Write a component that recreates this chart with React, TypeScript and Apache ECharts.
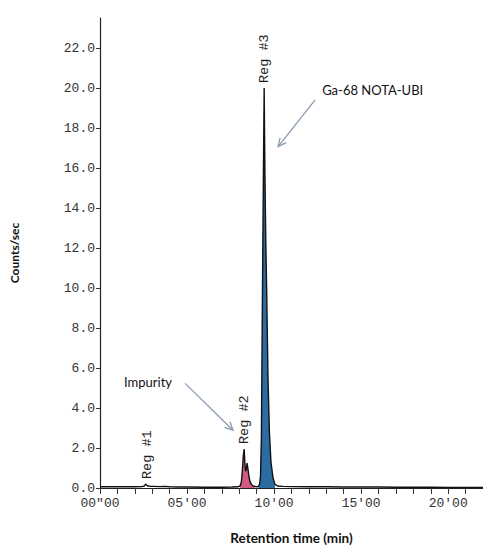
import React, { useEffect, useRef } from "react";
import * as echarts from "echarts";

// Retention time (min) and detector counts (counts/sec) of the radio-HPLC trace
const traceTime = [0, 0.5, 1.0, 1.5, 2.0, 2.4, 2.55, 2.62, 2.68, 2.75, 2.9, 3.1, 3.4, 3.7, 4.0, 4.5, 5.0, 6.0, 7.0, 7.6, 7.9, 8.05, 8.12, 8.18, 8.23, 8.28, 8.32, 8.36, 8.4, 8.45, 8.5, 8.56, 8.62, 8.7, 8.8, 8.9, 9.0, 9.1, 9.17, 9.22, 9.27, 9.33, 9.38, 9.43, 9.47, 9.52, 9.58, 9.65, 9.73, 9.82, 9.94, 10.05, 10.2, 10.5, 11, 12, 13, 14, 15, 16, 17, 18, 19, 20, 21, 22];
const traceCounts = [0.06, 0.06, 0.06, 0.06, 0.06, 0.07, 0.1, 0.2, 0.14, 0.1, 0.08, 0.08, 0.07, 0.08, 0.06, 0.05, 0.05, 0.04, 0.04, 0.05, 0.06, 0.1, 0.3, 0.9, 1.6, 1.95, 1.3, 0.85, 0.9, 1.25, 0.95, 0.55, 0.32, 0.18, 0.1, 0.08, 0.06, 0.08, 0.2, 0.6, 2.5, 9.5, 15, 20, 16, 12.5, 9.5, 5.5, 2.8, 1.3, 0.5, 0.18, 0.1, 0.08, 0.07, 0.06, 0.06, 0.05, 0.05, 0.05, 0.04, 0.04, 0.04, 0.03, 0.03, 0.03];

// Integrated regions (time ranges, min)
const impurityRange = [8.05, 8.9];
const productRange = [9.1, 10.05];

// Region labels: [label, time, counts at peak]
const regionLabels = ["Reg #1", "Reg #2", "Reg #3"];
const regionTimes = [2.75, 8.28, 9.45];
const regionPeaks = [0.2, 1.95, 20];

// Axis ticks
const xTickValues = [0, 1, 2, 3, 4, 5, 6, 7, 8, 9, 10, 11, 12, 13, 14, 15, 16, 17, 18, 19, 20, 21, 22];
const xLabelValues = [0, 5, 10, 15, 20];
const xTickLabels = ['00"00', "05'00", "10'00", "15'00", "20'00"];
const yTickValues = [0, 2, 4, 6, 8, 10, 12, 14, 16, 18, 20, 22];

// Annotations (data coordinates)
const annoImpurityText = [1.38, 5.28];
const annoImpurityArrow = [[4.89, 5.23], [7.64, 2.89]];
const annoProductText = [12.76, 19.91];
const annoProductArrow = [[12.36, 19.41], [10.23, 17.07]];

const pairs = traceTime.map((t, i) => [t, traceCounts[i]]);
const inRange = (r: number[]) => pairs.filter((p) => p[0] >= r[0] && p[0] <= r[1]);

export default function App() {
  const ref = useRef<HTMLDivElement>(null);
  useEffect(() => {
    if (!ref.current) return;
    const chart = echarts.init(ref.current, null, { renderer: "svg" });
    const mono = "'Liberation Mono', 'DejaVu Sans Mono', monospace";
    const sans = "Lato, 'Open Sans', sans-serif";
    chart.setOption({
      animation: false,
      backgroundColor: "#ffffff",
      grid: { left: 100, right: 0, top: 18, bottom: 60 },
      xAxis: {
        type: "value",
        min: 0,
        max: 22,
        offset: 3,
        name: "Retention time (min)",
        nameLocation: "middle",
        nameGap: 40,
        nameTextStyle: { fontFamily: sans, fontWeight: "bold", fontSize: 13.5, color: "#111" },
        axisLine: { show: true, lineStyle: { color: "#222", width: 1.2 } },
        axisTick: { show: true, customValues: xTickValues, length: 6, lineStyle: { color: "#333" } },
        axisLabel: {
          customValues: xLabelValues,
          margin: 6,
          fontFamily: mono,
          fontSize: 13,
          color: "#333",
          formatter: (v: number) => xTickLabels[xLabelValues.indexOf(v)] ?? "",
        },
        splitLine: { show: false },
      },
      yAxis: {
        type: "value",
        min: 0,
        max: 23.5,
        name: "Counts/sec",
        nameLocation: "middle",
        nameGap: 80,
        nameTextStyle: { fontFamily: sans, fontWeight: "bold", fontSize: 12, color: "#111" },
        axisLine: { show: true, lineStyle: { color: "#222", width: 1.2 } },
        axisTick: { show: true, customValues: yTickValues, length: 4, lineStyle: { color: "#333" } },
        axisLabel: {
          customValues: yTickValues,
          margin: 5,
          fontFamily: mono,
          fontSize: 13,
          color: "#333",
          formatter: (v: number) => v.toFixed(1),
        },
        splitLine: { show: false },
      },
      series: [
        {
          type: "line",
          data: inRange(impurityRange),
          symbol: "none",
          lineStyle: { width: 0 },
          areaStyle: { color: "#cf5a83", opacity: 1 },
          z: 1,
        },
        {
          type: "line",
          data: inRange(productRange),
          symbol: "none",
          lineStyle: { width: 0 },
          areaStyle: { color: "#2b6ca3", opacity: 1 },
          z: 1,
        },
        {
          type: "line",
          data: pairs,
          symbol: "none",
          lineStyle: { color: "#111", width: 1.4 },
          z: 3,
        },
      ],
    });

    const px = (p: number[]) => chart.convertToPixel({ gridIndex: 0 }, p) as number[];
    const arrow = (a: number[][]) => {
      const s = px(a[0]);
      const e = px(a[1]);
      const ang = Math.atan2(e[1] - s[1], e[0] - s[0]);
      const L = 9;
      const spread = 0.45;
      const h1 = [e[0] - L * Math.cos(ang - spread), e[1] - L * Math.sin(ang - spread)];
      const h2 = [e[0] - L * Math.cos(ang + spread), e[1] - L * Math.sin(ang + spread)];
      const st = { stroke: "#8a9bb0", lineWidth: 1.3, fill: null };
      return [
        { type: "line", shape: { x1: s[0], y1: s[1], x2: e[0], y2: e[1] }, style: st, z: 10 },
        { type: "polyline", shape: { points: [h1, e, h2] }, style: st, z: 10 },
      ];
    };
    const graphics: any[] = [];
    regionLabels.forEach((lab, i) => {
      const p = px([regionTimes[i], regionPeaks[i]]);
      graphics.push({
        type: "text",
        x: p[0],
        y: p[1] - 5,
        rotation: Math.PI / 2,
        style: { text: lab, font: `13.5px ${mono}`, fill: "#222", align: "left", verticalAlign: "middle" },
        z: 10,
      });
    });
    const it = px(annoImpurityText);
    graphics.push({
      type: "text",
      x: it[0],
      y: it[1],
      style: { text: "Impurity", font: `13px ${sans}`, fill: "#111", align: "left", verticalAlign: "middle" },
      z: 10,
    });
    const gt = px(annoProductText);
    graphics.push({
      type: "text",
      x: gt[0],
      y: gt[1],
      style: { text: "Ga-68 NOTA-UBI", font: `13px ${sans}`, fill: "#111", align: "left", verticalAlign: "middle" },
      z: 10,
    });
    graphics.push(...arrow(annoImpurityArrow), ...arrow(annoProductArrow));
    chart.setOption({ graphic: graphics });

    return () => chart.dispose();
  }, []);
  return <div ref={ref} style={{ position: "absolute", left: 0, top: 0, width: 483, height: 550 }} />;
}
